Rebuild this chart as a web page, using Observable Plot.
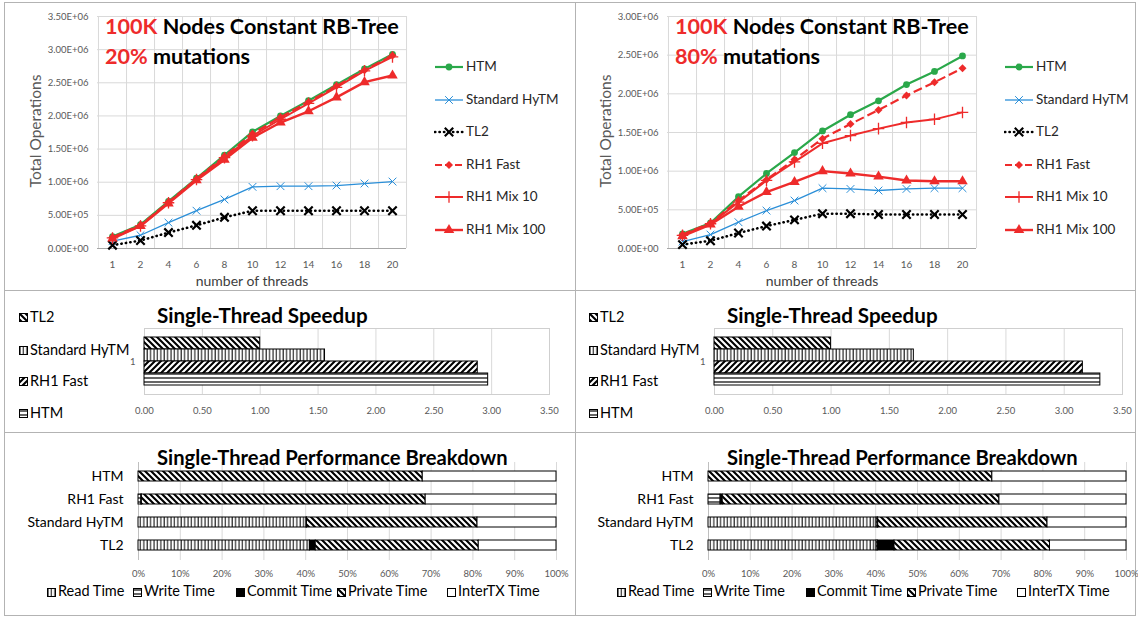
<!DOCTYPE html>
<html><head><meta charset="utf-8">
<script src="https://cdn.jsdelivr.net/npm/d3@7"></script>
<script src="https://cdn.jsdelivr.net/npm/@observablehq/plot@0.6"></script>
<style>
body{margin:0;background:#fff;}
#root{position:relative;width:1138px;height:618px;overflow:hidden;font-family:Lato,"Open Sans",sans-serif;background:#fff;}
#root div{white-space:nowrap;}
</style></head><body>
<svg width="0" height="0" style="position:absolute">
 <defs>
  <pattern id="pDown" patternUnits="userSpaceOnUse" width="6" height="6">
   <rect width="6" height="6" fill="#fff"/>
   <path d="M-1,-1L7,7M5,-1L7,1M-1,5L1,7" stroke="#000" stroke-width="2.1"/>
  </pattern>
  <pattern id="pUp" patternUnits="userSpaceOnUse" width="6" height="6">
   <rect width="6" height="6" fill="#fff"/>
   <path d="M-1,7L7,-1M-1,1L1,-1M5,7L7,5" stroke="#000" stroke-width="2.1"/>
  </pattern>
  <pattern id="pVert" patternUnits="userSpaceOnUse" width="3.4" height="4">
   <rect width="3.4" height="4" fill="#fff"/>
   <path d="M1,0L1,4" stroke="#000" stroke-width="1"/>
  </pattern>
  <pattern id="pHoriz" patternUnits="userSpaceOnUse" width="4" height="4">
   <rect width="4" height="4" fill="#fff"/>
   <path d="M0,2L4,2" stroke="#000" stroke-width="1.2"/>
  </pattern>
 </defs>
</svg>
<div id="root"></div>
<script>
// ---------- data ----------
const threads = ["1","2","4","6","8","10","12","14","16","18","20"];
const lineSeries = ["HTM","Standard HyTM","TL2","RH1 Fast","RH1 Mix 10","RH1 Mix 100"];
const yTicks35 = [0,5e5,1e6,1.5e6,2e6,2.5e6,3e6,3.5e6];
const yTicks30 = [0,5e5,1e6,1.5e6,2e6,2.5e6,3e6];

// 20% mutations (total operations)
const htm20    = [1.8e5,3.6e5,7.1e5,1.06e6,1.41e6,1.76e6,2.00e6,2.23e6,2.47e6,2.71e6,2.93e6];
const hytm20   = [1.1e5,2.0e5,3.9e5,5.7e5,7.4e5,9.3e5,9.4e5,9.4e5,9.5e5,9.8e5,1.01e6];
const tl2_20   = [5e4,1.2e5,2.4e5,3.5e5,4.7e5,5.7e5,5.7e5,5.7e5,5.7e5,5.7e5,5.7e5];
const fast20   = [1.7e5,3.5e5,7.0e5,1.05e6,1.39e6,1.73e6,1.98e6,2.21e6,2.45e6,2.69e6,2.91e6];
const mix10_20 = [1.6e5,3.4e5,6.9e5,1.04e6,1.37e6,1.70e6,1.95e6,2.19e6,2.43e6,2.68e6,2.89e6];
const mix100_20= [1.5e5,3.4e5,6.8e5,1.03e6,1.34e6,1.67e6,1.90e6,2.07e6,2.28e6,2.51e6,2.61e6];

// 80% mutations
const htm80    = [1.9e5,3.3e5,6.7e5,9.7e5,1.24e6,1.52e6,1.73e6,1.91e6,2.12e6,2.29e6,2.49e6];
const hytm80   = [9e4,1.8e5,3.4e5,4.9e5,6.2e5,7.8e5,7.7e5,7.5e5,7.7e5,7.8e5,7.8e5];
const tl2_80   = [5e4,1.0e5,2.0e5,2.9e5,3.7e5,4.5e5,4.5e5,4.4e5,4.4e5,4.4e5,4.4e5];
const fast80   = [1.8e5,3.3e5,6.2e5,8.9e5,1.15e6,1.42e6,1.61e6,1.79e6,1.98e6,2.15e6,2.33e6];
const mix10_80 = [1.7e5,3.2e5,6.0e5,8.8e5,1.12e6,1.36e6,1.46e6,1.55e6,1.63e6,1.67e6,1.76e6];
const mix100_80= [1.6e5,3.1e5,5.4e5,7.3e5,8.6e5,1.00e6,9.7e5,9.3e5,8.8e5,8.7e5,8.7e5];

// single-thread speedup
const spSeries = ["TL2","Standard HyTM","RH1 Fast","HTM"];
const spTicks = [0,0.5,1,1.5,2,2.5,3,3.5];
const speed20 = [1.00,1.56,2.88,2.97];
const speed80 = [1.00,1.71,3.16,3.31];

// single-thread breakdown (%)
const bdCats = ["HTM","RH1 Fast","Standard HyTM","TL2"];
const bdSegs = ["Read Time","Write Time","Commit Time","Private Time","InterTX Time"];
const bdTicks = [0,10,20,30,40,50,60,70,80,90,100];
const read20   = [0,0,40.2,41.0];
const write20  = [0,0.7,0,0];
const commit20 = [0,0.1,0.1,1.4];
const priv20   = [68.0,67.9,40.8,39.0];
const inter20  = [32.0,31.3,18.9,18.6];
const read80   = [0,0,40.2,40.2];
const write80  = [0,2.9,0.3,0.3];
const commit80 = [0,0.5,0.1,4.0];
const priv80   = [67.9,66.2,40.5,37.2];
const inter80  = [32.1,30.4,18.9,18.3];

// ---------- styles ----------
const RED = "#ee2b2b", GREEN = "#2aa84a", BLUE = "#2b8fd8";
const lineStyles = {
  "HTM":          {stroke: GREEN, sw: 2.2, symbol: "circle", r: 3.4, fill: GREEN},
  "Standard HyTM":{stroke: BLUE, sw: 1.3, symbol: "times", r: 3.6, fill: "none", dsw: 1},
  "TL2":          {stroke: "#000", sw: 2.6, dash: "0.3 4.2", cap: "round", symbol: "times", r: 3.9, fill: "none", dsw: 2.2},
  "RH1 Fast":     {stroke: RED, sw: 2.2, dash: "9 4", symbol: "diamond2", r: 3.6, fill: RED},
  "RH1 Mix 10":   {stroke: RED, sw: 2.0, symbol: "plus", r: 3.8, fill: "none", dsw: 1.3},
  "RH1 Mix 100":  {stroke: RED, sw: 2.4, symbol: "triangle", r: 3.9, fill: RED}
};
const spFills = ["url(#pDown)","url(#pVert)","url(#pUp)","url(#pHoriz)"];
const bdFills = ["url(#pVert)","url(#pHoriz)","#000","url(#pDown)","#fff"];

const root = document.getElementById("root");
const TXT = "#595959";

function fmtE(v){
  if (v === 0) return "0.00E+00";
  const e = Math.floor(Math.log10(v));
  return (v / Math.pow(10, e)).toFixed(2) + "E+" + String(e).padStart(2, "0");
}
function put(el, x, y){ el.style.position = "absolute"; el.style.left = x + "px"; el.style.top = y + "px"; root.appendChild(el); return el; }
function text(parts, x, base, size, {anchor = "start", weight = 400, color = "#000"} = {}){
  const d = document.createElement("div");
  for (const p of [].concat(parts)) {
    const s = document.createElement("span");
    if (typeof p === "string") s.textContent = p; else { s.textContent = p.t; s.style.color = p.c; }
    d.appendChild(s);
  }
  d.style.cssText = `position:absolute;font-size:${size}px;line-height:1;font-weight:${weight};color:${color};top:${base - 0.887*size}px;left:${x}px;`;
  if (anchor === "middle") d.style.transform = "translateX(-50%)";
  if (anchor === "end") d.style.transform = "translateX(-100%)";
  root.appendChild(d);
  return d;
}
function box(x, y, w, h, css){ const d = document.createElement("div"); d.style.cssText = `position:absolute;left:${x}px;top:${y}px;width:${w}px;height:${h}px;${css}`; root.appendChild(d); }

// panel borders
box(4, 2, 1132, 614, "border:1px solid #b3b3b3;box-sizing:border-box;");
box(575, 2, 1, 614, "background:#b3b3b3;");
box(4, 290, 1132, 1, "background:#b3b3b3;");
box(4, 432, 1132, 1, "background:#b3b3b3;");

// ---------- top line charts ----------
function lineChart(ox, arrays, yMax, yTicks){
  const W = 420, H = 290, ML = 97, MR = 14, MT = 16, MB = 42;
  const half = (W - ML - MR) / threads.length / 2;
  const marks = [
    Plot.gridY(yTicks, {stroke: "#d9d9d9", strokeOpacity: 1}),
    Plot.ruleX(threads, {x: d => d, dx: half, stroke: "#d9d9d9"}),
    Plot.ruleX(threads.slice(0, 1), {x: d => d, dx: -half, stroke: "#d9d9d9"}),
    Plot.ruleY([0], {stroke: "#a6a6a6"}),
    Plot.axisX({tickSize: 0, tickPadding: 12, fontSize: 10, fill: TXT, label: null}),
    Plot.axisY(yTicks, {tickSize: 0, tickPadding: 9, fontSize: 9.5, tickFormat: fmtE, fill: TXT, label: null})
  ];
  lineSeries.forEach((name, i) => {
    const st = lineStyles[name];
    const data = threads.map((t, j) => ({t, v: arrays[i][j]}));
    marks.push(Plot.line(data, {x: "t", y: "v", stroke: st.stroke, strokeWidth: st.sw,
      strokeDasharray: st.dash, strokeLinecap: st.cap || "butt"}));
    marks.push(Plot.dot(data, {x: "t", y: "v", symbol: st.symbol, r: st.r,
      fill: st.fill, stroke: st.fill === "none" ? st.stroke : "none", strokeWidth: st.dsw || 1}));
  });
  const svg = Plot.plot({
    width: W, height: H, marginLeft: ML, marginRight: MR, marginTop: MT, marginBottom: MB,
    style: {fontFamily: "Lato", background: "transparent", overflow: "visible"},
    x: {type: "point", domain: threads, padding: 0.5},
    y: {domain: [0, yMax]},
    marks
  });
  put(svg, ox, 0);
}
lineChart(0, [htm20, hytm20, tl2_20, fast20, mix10_20, mix100_20], 3.5e6, yTicks35);
lineChart(570, [htm80, hytm80, tl2_80, fast80, mix10_80, mix100_80], 3.0e6, yTicks30);

function lineLegend(ox){
  const ys = [67, 100, 132, 165, 197, 230];
  lineSeries.forEach((name, i) => {
    const st = lineStyles[name];
    const s = d3.create("svg").attr("width", 30).attr("height", 14);
    s.append("line").attr("x1", 1).attr("x2", 29).attr("y1", 7).attr("y2", 7)
      .attr("stroke", st.stroke).attr("stroke-width", st.sw).attr("stroke-dasharray", st.dash ? (name === "TL2" ? "0.3 4.2" : "7 3") : null)
      .attr("stroke-linecap", st.cap || "butt");
    const sym = {circle: d3.symbolCircle, times: d3.symbolTimes, diamond2: d3.symbolDiamond2, plus: d3.symbolPlus, triangle: d3.symbolTriangle}[st.symbol];
    s.append("path").attr("transform", "translate(15,7)").attr("d", d3.symbol(sym, st.r * st.r * Math.PI)())
      .attr("fill", st.fill).attr("stroke", st.fill === "none" ? st.stroke : "none").attr("stroke-width", st.dsw || 1);
    put(s.node(), ox + 434, ys[i] - 7);
    text(name, ox + 466, ys[i] + 4.8, 13.5, {color: "#262626"});
  });
}
lineLegend(0); lineLegend(570);

function titles(ox, pct){
  text([{t: "100K", c: RED}, " Nodes Constant RB-Tree"], ox + 105, 35, 21.6, {weight: 700});
  text([{t: pct, c: RED}, " mutations"], ox + 105, 65, 21.6, {weight: 700});
  const yl = text("Total Operations", ox + 36, 131, 15.5, {color: TXT});
  yl.style.top = "131px"; yl.style.transform = "translate(-50%,-50%) rotate(-90deg)";
  text("number of threads", ox + 252, 286, 14, {anchor: "middle", color: "#404040"});
}
titles(0, "20%"); titles(570, "80%");

// ---------- speedup charts ----------
function swatch(fill, x, y, s = 9){
  const sv = d3.create("svg").attr("width", s).attr("height", s);
  sv.append("rect").attr("x", 0.5).attr("y", 0.5).attr("width", s - 1).attr("height", s - 1)
    .attr("fill", fill).attr("stroke", "#000").attr("stroke-width", 1);
  put(sv.node(), x, y);
}
function speedChart(ox, values){
  const data = spSeries.map((s, i) => ({series: s, value: values[i]}));
  const xEnd = ox === 0 ? 549 : 552;
  const svg = Plot.plot({
    width: 569, height: 124, marginLeft: 144, marginRight: 569 - xEnd, marginTop: 28, marginBottom: 30,
    style: {fontFamily: "Lato", background: "transparent", overflow: "visible"},
    x: {domain: [0, 3.5]},
    y: {type: "band", domain: spSeries, paddingInner: 0, paddingOuter: 0.75, axis: null},
    color: {type: "ordinal", domain: spSeries, range: spFills},
    marks: [
      Plot.gridX(spTicks, {stroke: "#d9d9d9", strokeOpacity: 1}),
      Plot.frame({stroke: "#cfcfcf"}),
      Plot.axisX(spTicks, {tickSize: 0, tickPadding: 13, tickFormat: d => d.toFixed(2), fontSize: 9.5, fill: TXT, label: null}),
      Plot.barX(data, {x: "value", y: "series", fill: "series", stroke: "#000", strokeWidth: 1}),
      Plot.text(["1"], {text: d => d, frameAnchor: "left", dx: -9, textAnchor: "end", fontSize: 9.5, fill: TXT})
    ]
  });
  put(svg, ox, 300);
  text("Single-Thread Speedup", ox + 157, 323, 20.6, {weight: 700});
  const ys = [318, 351, 382, 414];
  spSeries.forEach((s, i) => {
    swatch(spFills[i], ox + 19, ys[i] - 5);
    text(s, ox + 30, ys[i] + 5, 14.5, {color: "#000"});
  });
}
speedChart(0, speed20);
speedChart(570, speed80);

// ---------- breakdown charts ----------
function breakChart(ox, segArrays){
  const data = [];
  bdCats.forEach((c, j) => bdSegs.forEach((s, k) => data.push({cat: c, seg: s, v: segArrays[k][j]})));
  const svg = Plot.plot({
    width: 570, height: 142, marginLeft: 138, marginRight: 14, marginTop: 22, marginBottom: 22,
    style: {fontFamily: "Lato", background: "transparent", overflow: "visible"},
    x: {domain: [0, 100]},
    y: {type: "band", domain: bdCats, paddingInner: 0.565, paddingOuter: 0.41},
    color: {type: "ordinal", domain: bdSegs, range: bdFills},
    marks: [
      Plot.gridX(bdTicks.slice(1), {stroke: "#d9d9d9", strokeOpacity: 1}),
      Plot.ruleX([0], {stroke: "#bfbfbf"}),
      Plot.axisX(bdTicks, {tickSize: 0, tickPadding: 10, tickFormat: d => d + "%", fontSize: 9.5, fill: TXT, label: null}),
      Plot.axisY({tickSize: 0, tickPadding: 15, fontSize: 14, fill: "#000", label: null}),
      Plot.barX(data, Plot.stackX({x: "v", y: "cat", fill: "seg", stroke: "#000", strokeWidth: 1}))
    ]
  });
  put(svg, ox, 440);
  text("Single-Thread Performance Breakdown", ox + 157, 465, 20.2, {weight: 700});
  const xs = [47, 133, 236, 337, 447];
  bdSegs.forEach((s, k) => {
    swatch(bdFills[k], ox + xs[k], 588);
    text(s, ox + xs[k] + 11, 597, 14.5, {color: "#000"});
  });
}
breakChart(0, [read20, write20, commit20, priv20, inter20]);
breakChart(570, [read80, write80, commit80, priv80, inter80]);
</script>
</body></html>
